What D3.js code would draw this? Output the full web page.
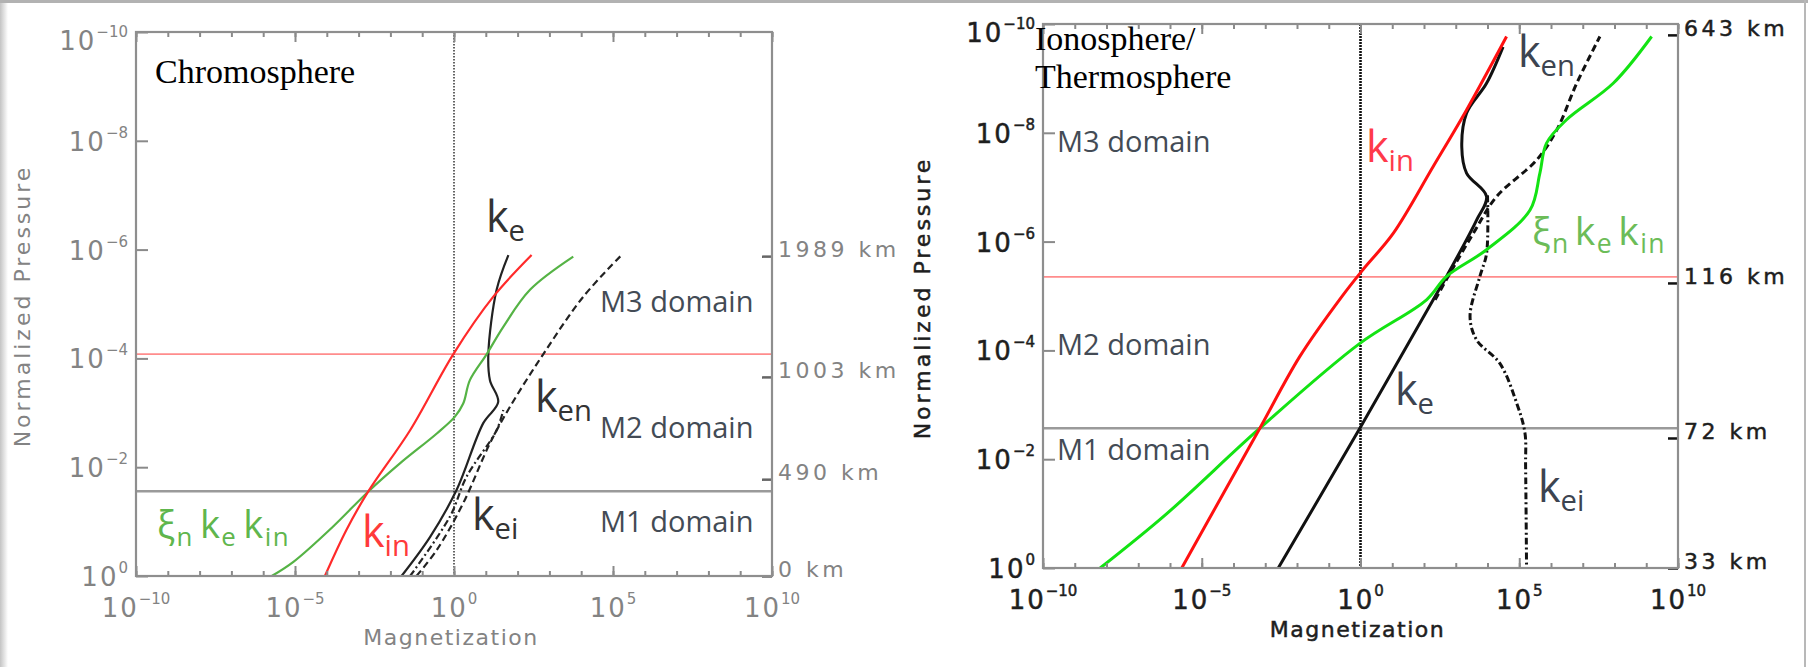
<!DOCTYPE html>
<html>
<head>
<meta charset="utf-8">
<script src="https://cdn.jsdelivr.net/npm/d3@7"></script>
<style>
  body { margin: 0; background: #fff; }
  svg { display: block; }
</style>
</head>
<body>
<div id="chart"></div>
<script>
// ---- data: [log10 magnetization, log10 normalized pressure] ----
const chromoKin = [[-4.06, 0], [-3.38, -0.85], [-2.70, -1.55], [-1.38, -2.68], [-0.02, -4.08], [1.23, -5.13], [2.44, -5.90]]
const chromoXi = [[-5.73, 0], [-5.05, -0.26], [-3.80, -0.91], [-2.70, -1.55], [-1.70, -2.07], [-0.54, -2.62], [0.03, -2.93],
                  [0.29, -3.17], [0.50, -3.60], [1.03, -4.08], [1.55, -4.58], [2.39, -5.26], [3.75, -5.87]]
const chromoKe = [[-1.65, 0], [-0.75, -0.72], [0.08, -1.58], [0.92, -2.81], [1.39, -3.20], [1.13, -3.60], [1.08, -4.08], [1.34, -5.26], [1.71, -5.90]]
const chromoKen = [[-1.18, 0], [-0.54, -0.48], [0.29, -1.34], [1.13, -2.44], [1.76, -3.11], [2.81, -4.08], [4.06, -5.13], [5.27, -5.90]]
const chromoKei = [[-1.38, 0], [-0.13, -1.09], [0.40, -1.83], [1.34, -2.68], [1.55, -3.05]]
const chromoBounds = [-4.08, -1.56]          // red, gray lines
const chromoKmLabels = ['1989 km', '1003 km', '490 km', '0 km']
const chromoKmLogP = [-5.88, -3.66, -1.78, 0]

const ionoKin = [[-5.63, 0], [-4.32, -1.37], [-3.17, -2.57], [-1.91, -3.89], [-0.60, -4.98], [0.10, -5.50], [1.03, -6.15],
                 [2.29, -7.38], [3.34, -8.42], [4.60, -9.77]]
const ionoXi = [[-8.2, 0], [-6.10, -1.0], [-3.17, -2.57], [-0.02, -4.13], [2.08, -4.93], [2.71, -5.36], [3.97, -5.85],
                [5.34, -6.58], [5.65, -7.26], [5.86, -7.81], [6.49, -8.24], [7.96, -8.91], [9.17, -9.77]]
const ionoKe = [[-2.59, 0], [-0.02, -2.57], [2.29, -4.93], [2.71, -5.36], [3.66, -6.40], [3.97, -6.83], [3.34, -7.26],
                [3.19, -7.74], [3.34, -8.36], [3.97, -8.91], [4.49, -9.58]]
const ionoKen = [[2.35, -4.93], [2.82, -5.42], [3.55, -6.15], [4.29, -6.83], [5.55, -7.50], [6.18, -8.05], [6.81, -8.91], [7.54, -9.77]]
const ionoKei = [[4.0, -6.85], [3.97, -5.78], [3.76, -5.36], [3.45, -4.62], [3.66, -4.19], [4.39, -3.76], [4.92, -3.03],
                 [5.18, -2.48], [5.20, -1.87], [5.23, 0]]
const ionoBounds = [-5.35, -2.57]
const ionoKmLabels = ['643 km', '116 km', '72 km', '33 km']
const ionoKmLogP = [-9.80, -5.24, -2.39, 0]

const xMajor = [-10, -5, 0, 5, 10]
const yMajor = [-10, -8, -6, -4, -2, 0]

const W = 1808, H = 667
const svg = d3.select('#chart').append('svg').attr('width', W).attr('height', H)

// screenshot border
const defs = svg.append('defs')
const lg = defs.append('linearGradient').attr('id', 'lshade')
lg.append('stop').attr('offset', 0).attr('stop-color', '#c4c4c4')
lg.append('stop').attr('offset', 1).attr('stop-color', '#fff')
svg.append('rect').attr('x', 0).attr('y', 0).attr('width', 8).attr('height', H).attr('fill', 'url(#lshade)')
svg.append('rect').attr('x', 0).attr('y', 0).attr('width', W).attr('height', 3).attr('fill', '#b2b2b2')
svg.append('rect').attr('x', W - 4).attr('y', 0).attr('width', 2).attr('height', H).attr('fill', '#b8b8b8')

function drawPanel(cfg) {
  const x = d3.scaleLog().domain([1e-10, 1e10]).range([cfg.left, cfg.right])
  const y = d3.scaleLog().domain([1, 1e-10]).range([cfg.bottom, cfg.top])
  const g = svg.append('g')

  // domain boundaries
  g.append('line').attr('x1', cfg.left).attr('x2', cfg.right)
    .attr('y1', y(10 ** cfg.bounds[0])).attr('y2', y(10 ** cfg.bounds[0]))
    .attr('stroke', '#ff8c8c').attr('stroke-width', 1.8)
  g.append('line').attr('x1', cfg.left).attr('x2', cfg.right)
    .attr('y1', y(10 ** cfg.bounds[1])).attr('y2', y(10 ** cfg.bounds[1]))
    .attr('stroke', '#9a9a9a').attr('stroke-width', 2.5)

  // magnetization = 1
  g.append('line').attr('x1', x(1)).attr('x2', x(1)).attr('y1', cfg.top).attr('y2', cfg.bottom)
    .attr('stroke', '#111').attr('stroke-width', cfg.dotW).attr('stroke-dasharray', cfg.dotDash)

  const line = d3.line()
    .x(d => x(10 ** d[0]))
    .y(d => y(10 ** d[1]))
    .curve(d3.curveCatmullRom.alpha(0.5))

  cfg.curves.forEach(c => {
    g.append('path')
      .attr('d', line(c.data))
      .attr('fill', 'none')
      .attr('stroke', c.color)
      .attr('stroke-width', cfg.lw)
      .attr('stroke-dasharray', c.dash || null)
  })

  // ticks
  const decades = d3.range(-10, 11).map(k => 10 ** k)
  const tickAxis = (axis, tr) => g.append('g').attr('transform', tr).call(axis)
    .call(a => a.select('.domain').remove())
    .call(a => a.selectAll('.tick line').attr('stroke', '#8a8a8a').attr('stroke-width', 2))
  tickAxis(d3.axisBottom(x).tickValues(decades).tickSize(-5).tickFormat(''), `translate(0,${cfg.bottom})`)
  tickAxis(d3.axisBottom(x).tickValues(xMajor.map(k => 10 ** k)).tickSize(-10).tickFormat(''), `translate(0,${cfg.bottom})`)
  tickAxis(d3.axisTop(x).tickValues(decades).tickSize(-5).tickFormat(''), `translate(0,${cfg.top})`)
  tickAxis(d3.axisTop(x).tickValues(xMajor.map(k => 10 ** k)).tickSize(-10).tickFormat(''), `translate(0,${cfg.top})`)
  tickAxis(d3.axisLeft(y).tickValues(yMajor.map(k => 10 ** k)).tickSize(-12).tickFormat(''), `translate(${cfg.left},0)`)
  g.append('g').attr('transform', `translate(${cfg.right},0)`)
    .call(d3.axisRight(y).tickValues(cfg.kmLogP.map(k => 10 ** k)).tickSize(-10).tickFormat(''))
    .call(a => a.select('.domain').remove())
    .call(a => a.selectAll('.tick line').attr('stroke', cfg.kmTick).attr('stroke-width', 2.5))

  // frame
  g.append('rect').attr('x', cfg.left).attr('y', cfg.top)
    .attr('width', cfg.right - cfg.left).attr('height', cfg.bottom - cfg.top)
    .attr('fill', 'none').attr('stroke', '#8e8e8e').attr('stroke-width', 2.2)

  const axisText = sel => sel.attr('font-family', 'DejaVu Sans').attr('fill', cfg.text)
    .attr('stroke', cfg.textStroke).attr('stroke-width', 0.5)

  // x labels
  xMajor.forEach(k => {
    const t = g.append('text').call(axisText).attr('x', x(10 ** k)).attr('y', cfg.bottom + 41)
      .attr('text-anchor', 'middle').attr('font-size', 26).attr('letter-spacing', 2)
    t.append('tspan').text('10')
    t.append('tspan').attr('dy', -13).attr('font-size', 15).attr('letter-spacing', 0).text(k < 0 ? '\u2212' + (-k) : k)
  })
  // y labels
  yMajor.forEach(k => {
    const yy = k === -10 ? cfg.top + 18 : y(10 ** k) + 10
    const t = g.append('text').call(axisText).attr('x', cfg.left - 8).attr('y', yy)
      .attr('text-anchor', 'end').attr('font-size', 26).attr('letter-spacing', 2)
    t.append('tspan').text('10')
    t.append('tspan').attr('dy', -13).attr('font-size', 15).attr('letter-spacing', 0).text(k < 0 ? '\u2212' + (-k) : k)
  })
  // km labels
  cfg.kmLabels.forEach((s, i) => {
    g.append('text').call(axisText).attr('x', cfg.right + 6).attr('y', y(10 ** cfg.kmLogP[i]) + 1)
      .attr('font-size', 22).attr('letter-spacing', 3.5).text(s)
  })

  g.append('text').call(axisText).attr('x', (cfg.left + cfg.right) / 2 - 3).attr('y', cfg.bottom + 69)
    .attr('text-anchor', 'middle').attr('font-size', 22).attr('letter-spacing', 1.5).text('Magnetization')
  g.append('text').call(axisText)
    .attr('transform', `translate(${cfg.yLabelX},${(cfg.top + cfg.bottom) / 2 + 2}) rotate(-90)`)
    .attr('text-anchor', 'middle').attr('font-size', 22).attr('letter-spacing', 3).text('Normalized Pressure')

  // title
  const tt = g.append('text').attr('font-family', 'Liberation Serif').attr('font-size', 34).attr('fill', '#000')
  cfg.title.forEach((s, i) => tt.append('tspan').attr('x', cfg.titleX).attr('y', cfg.titleY + i * 38).text(s))

  // domain labels
  cfg.domains.forEach(d => {
    g.append('text').attr('x', d[1]).attr('y', d[2]).attr('font-family', 'Open Sans')
      .attr('font-size', 29).attr('fill', '#434b55').text(d[0])
  })

  // curve labels: main letter + subscript, groups separated by a small gap
  cfg.labels.forEach(l => {
    const t = g.append('text').attr('x', l.x).attr('y', l.y).attr('font-family', 'Open Sans')
      .attr('font-size', l.size).attr('fill', l.color).attr('letter-spacing', l.ls || 0)
    l.parts.forEach((p, i) => {
      t.append('tspan').attr('dx', i ? l.gap : 0).attr('dy', i ? -l.size * 0.2 : 0).text(p[0])
      t.append('tspan').attr('dy', l.size * 0.2).attr('font-size', l.size * 0.68).text(p[1])
    })
  })
}

drawPanel({
  left: 136, right: 772, top: 32, bottom: 576,
  bounds: chromoBounds, kmLabels: chromoKmLabels, kmLogP: chromoKmLogP,
  lw: 2.2, dotW: 1.3, dotDash: '1.5,1.5',
  text: '#838383', textStroke: 'none', kmTick: '#666',
  yLabelX: 30,
  title: ['Chromosphere'], titleX: 155, titleY: 83,
  curves: [
    { data: chromoKei, color: '#222', dash: '7,3,2,3' },
    { data: chromoKen, color: '#222', dash: '7,4' },
    { data: chromoKe, color: '#222' },
    { data: chromoXi, color: '#55b345' },
    { data: chromoKin, color: '#ff2a2a' }
  ],
  domains: [['M3 domain', 600, 312], ['M2 domain', 600, 438], ['M1 domain', 600, 532]],
  labels: [
    { x: 486, y: 232, size: 43, color: '#333', parts: [['k', 'e']] },
    { x: 535, y: 412, size: 43, color: '#333', parts: [['k', 'en']] },
    { x: 472, y: 530, size: 43, color: '#333', parts: [['k', 'ei']] },
    { x: 362, y: 547, size: 43, color: '#ff3a3a', parts: [['k', 'in']] },
    { x: 157, y: 538, size: 38, ls: 1.5, gap: 6, color: '#5fb64d', parts: [['\u03be', 'n'], ['k', 'e'], ['k', 'in']] }
  ]
})

drawPanel({
  left: 1043, right: 1678, top: 24, bottom: 568,
  bounds: ionoBounds, kmLabels: ionoKmLabels, kmLogP: ionoKmLogP,
  lw: 3, dotW: 2.6, dotDash: '2,1',
  text: '#1e1e1e', textStroke: '#1e1e1e', kmTick: '#111',
  yLabelX: 930,
  title: ['Ionosphere/', 'Thermosphere'], titleX: 1035, titleY: 50,
  curves: [
    { data: ionoKei, color: '#111', dash: '7,3,2,3' },
    { data: ionoKen, color: '#111', dash: '7,4' },
    { data: ionoKe, color: '#111' },
    { data: ionoXi, color: '#13e313' },
    { data: ionoKin, color: '#ff1010' }
  ],
  domains: [['M3 domain', 1057, 152], ['M2 domain', 1057, 355], ['M1 domain', 1057, 460]],
  labels: [
    { x: 1518, y: 67, size: 43, color: '#3c4450', parts: [['k', 'en']] },
    { x: 1366, y: 162, size: 43, color: '#ff3a4a', parts: [['k', 'in']] },
    { x: 1395, y: 405, size: 43, color: '#3c4450', parts: [['k', 'e']] },
    { x: 1538, y: 502, size: 43, color: '#3c4450', parts: [['k', 'ei']] },
    { x: 1532, y: 245, size: 39, ls: 1.5, gap: 5, color: '#6cbc58', parts: [['\u03be', 'n'], ['k', 'e'], ['k', 'in']] }
  ]
})
</script>
</body>
</html>
